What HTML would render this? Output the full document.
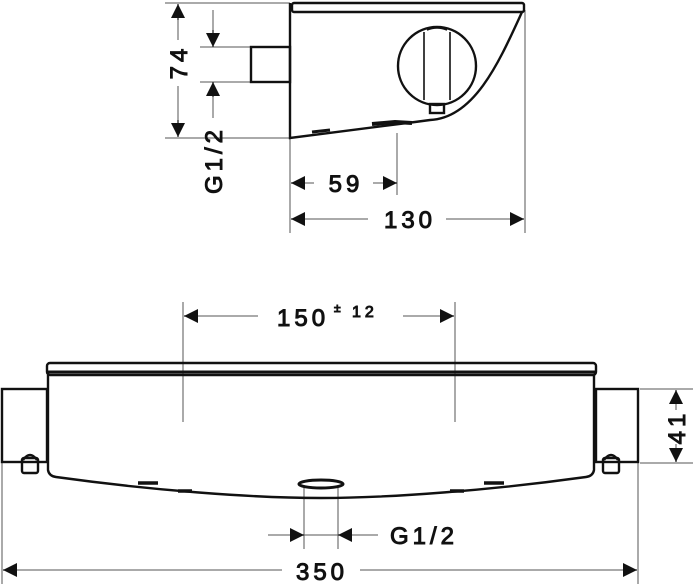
<!DOCTYPE html>
<html><head><meta charset="utf-8"><style>
html,body{margin:0;padding:0;background:#fff;width:693px;height:587px;overflow:hidden}
svg{display:block}
text{font-family:"Liberation Sans",sans-serif;fill:#111;letter-spacing:4px;font-weight:normal}
</style></head><body>
<svg width="693" height="587" viewBox="0 0 693 587" xmlns="http://www.w3.org/2000/svg">
<defs>
<marker id="a" viewBox="0 0 10 10" refX="10" refY="5" markerWidth="14" markerHeight="14" markerUnits="userSpaceOnUse" orient="auto"><path d="M0,0 L10,5 L0,10 z" fill="#111"/></marker>
</defs>
<g stroke="#111" fill="none">
<g stroke-width="1" stroke="#555">
<line x1="165" y1="3" x2="290" y2="3"/>
<line x1="165" y1="138" x2="290" y2="138"/>
<line x1="200" y1="47" x2="250" y2="47"/>
<line x1="200" y1="82" x2="250" y2="82"/>
<line x1="290" y1="138" x2="290" y2="233"/>
<line x1="397" y1="133" x2="397" y2="195"/>
<line x1="525" y1="10" x2="525" y2="233"/>
<line x1="178" y1="20" x2="178" y2="40"/>
<line x1="178" y1="86" x2="178" y2="120"/>
<line x1="213" y1="10" x2="213" y2="30"/>
<line x1="213" y1="97" x2="213" y2="118"/>
<line x1="305" y1="183" x2="314" y2="183"/>
<line x1="373" y1="183" x2="383" y2="183"/>
<line x1="305" y1="219" x2="368" y2="219"/>
<line x1="446" y1="219" x2="510" y2="219"/>
</g>
<g stroke-width="1.2">
<line x1="178" y1="20" x2="178" y2="4" marker-end="url(#a)"/>
<line x1="178" y1="120" x2="178" y2="137" marker-end="url(#a)"/>
<line x1="213" y1="30" x2="213" y2="47" marker-end="url(#a)"/>
<line x1="213" y1="97" x2="213" y2="82" marker-end="url(#a)"/>
<line x1="305" y1="183" x2="291" y2="183" marker-end="url(#a)"/>
<line x1="383" y1="183" x2="397" y2="183" marker-end="url(#a)"/>
<line x1="305" y1="219" x2="291" y2="219" marker-end="url(#a)"/>
<line x1="510" y1="219" x2="524" y2="219" marker-end="url(#a)"/>
</g>
<g stroke-width="2.4">
<rect x="292" y="3" width="232" height="9" rx="2"/>
<path d="M290,3 L290,138 L415,122 L430,120 C475,118 500,60 522,12"/>
<rect x="251" y="47" width="39" height="35"/>
<circle cx="437" cy="66" r="39"/>
<path d="M424,32 L424,100 M450,32 L450,100" stroke-width="1.6"/>
<path d="M427,30 Q437,26 447,30" stroke-width="1.6"/>
<rect x="430" y="104" width="14" height="9"/>
<path d="M312,132 L330,130" stroke-width="3"/>
<path d="M372,124 L395,122 L412,123" stroke-width="4"/>
</g>
<text x="0" y="0" font-size="24" transform="translate(187,62) rotate(-90)" text-anchor="middle">74</text>
<text x="0" y="0" font-size="24" transform="translate(222,160) rotate(-90)" text-anchor="middle">G1/2</text>
<text x="346" y="192" font-size="24" text-anchor="middle">59</text>
<text x="410" y="228" font-size="24" text-anchor="middle">130</text>

<g stroke-width="1" stroke="#555">
<line x1="183" y1="302" x2="183" y2="422"/>
<line x1="455" y1="302" x2="455" y2="422"/>
<line x1="198" y1="316" x2="258" y2="316"/>
<line x1="403" y1="316" x2="440" y2="316"/>
<line x1="640" y1="389" x2="693" y2="389"/>
<line x1="640" y1="463" x2="693" y2="463"/>
<line x1="676" y1="404" x2="676" y2="410"/>
<line x1="676" y1="444" x2="676" y2="448"/>
<line x1="304" y1="486" x2="304" y2="549"/>
<line x1="338" y1="486" x2="338" y2="549"/>
<line x1="268" y1="535" x2="378" y2="535"/>
<line x1="2" y1="463" x2="2" y2="584"/>
<line x1="638" y1="463" x2="638" y2="584"/>
<line x1="16" y1="570" x2="282" y2="570"/>
<line x1="360" y1="570" x2="623" y2="570"/>
</g>
<g stroke-width="1.2">
<line x1="198" y1="316" x2="184" y2="316" marker-end="url(#a)"/>
<line x1="440" y1="316" x2="454" y2="316" marker-end="url(#a)"/>
<line x1="676" y1="404" x2="676" y2="390" marker-end="url(#a)"/>
<line x1="676" y1="448" x2="676" y2="462" marker-end="url(#a)"/>
<line x1="290" y1="535" x2="304" y2="535" marker-end="url(#a)"/>
<line x1="352" y1="535" x2="338" y2="535" marker-end="url(#a)"/>
<line x1="16" y1="570" x2="3" y2="570" marker-end="url(#a)"/>
<line x1="623" y1="570" x2="637" y2="570" marker-end="url(#a)"/>
</g>
<g stroke-width="2.4">
<rect x="47" y="363" width="549" height="12" rx="3"/>
<line x1="48" y1="372" x2="595" y2="372" stroke-width="3"/>
<path d="M48,375 L48,470 Q49,476 56,477 C150,490 250,498 321,498 C392,498 492,490 586,477 Q593,476 594,470 L594,375"/>
<rect x="2" y="389" width="45" height="73"/>
<rect x="596" y="389" width="42" height="73"/>
<rect x="22" y="458" width="16" height="15" rx="2"/>
<path d="M23,460 Q30,450 37,460"/>
<rect x="603" y="458" width="16" height="15" rx="2"/>
<path d="M604,460 Q611,450 618,460"/>
<ellipse cx="321" cy="484" rx="22" ry="4" stroke-width="3"/>
<path d="M138,483 L158,483 M178,491 L192,491 M484,483 L504,483 M450,491 L464,491" stroke-width="3.5"/>
</g>
<text x="277" y="326" font-size="24">150</text>
<text x="334" y="312" font-size="12" letter-spacing="0">±</text>
<text x="352" y="317" font-size="16" letter-spacing="2">12</text>
<text x="0" y="0" font-size="24" transform="translate(685,427) rotate(-90)" text-anchor="middle">41</text>
<text x="390" y="544" font-size="24">G1/2</text>
<text x="322" y="580" font-size="24" text-anchor="middle">350</text>
</g>
</svg>
</body></html>
